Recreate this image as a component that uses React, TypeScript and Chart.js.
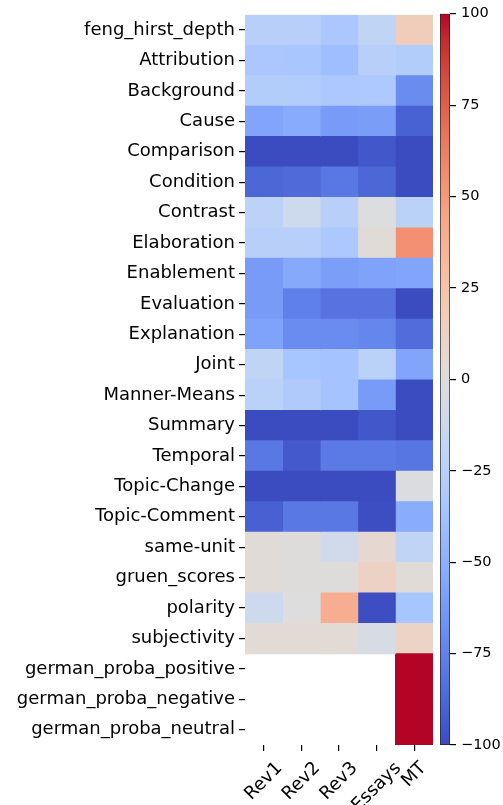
import React, { useEffect, useRef } from "react";
import { Chart, registerables } from "chart.js";

Chart.register(...registerables);

const rowLabels = [
  "feng_hirst_depth", "Attribution", "Background", "Cause", "Comparison", "Condition",
  "Contrast", "Elaboration", "Enablement", "Evaluation", "Explanation", "Joint",
  "Manner-Means", "Summary", "Temporal", "Topic-Change", "Topic-Comment", "same-unit",
  "gruen_scores", "polarity", "subjectivity", "german_proba_positive",
  "german_proba_negative", "german_proba_neutral",
];
const colLabels = ["Rev1", "Rev2", "Rev3", "Essays", "MT"];

const rev1 = [-25, -33, -28, -56, -100, -88, -22, -25, -62, -62, -58, -20, -24, -100, -80, -100, -91, 3, 3, -12, 4, null, null, null];
const rev2 = [-25, -34, -29, -53, -100, -86, -12, -25, -54, -76, -70, -35, -30, -100, -94, -100, -80, 1, 1, 0, 4, null, null, null];
const rev3 = [-33, -40, -32, -62, -100, -80, -25, -32, -60, -82, -70, -37, -37, -100, -79, -100, -80, -10, 1, 40, 4, null, null, null];
const essays = [-20, -25, -31, -61, -95, -88, -1, 3, -58, -82, -73, -24, -62, -95, -79, -100, -99, 7, 13, -99, -5, null, null, null];
const mt = [18, -28, -70, -90, -100, -100, -23, 55, -56, -100, -85, -56, -100, -100, -81, -2, -52, -20, 3, -35, 12, 100, 100, 100];

const colorbarTicks = [-100, -75, -50, -25, 0, 25, 50, 75, 100];
const vmin = -100;
const vmax = 100;

const COOLWARM: number[][] = [
  [59, 76, 192], [68, 90, 204], [77, 104, 215], [87, 117, 225], [98, 130, 234],
  [108, 142, 241], [119, 154, 247], [130, 165, 251], [141, 176, 254], [152, 185, 255],
  [163, 194, 255], [174, 201, 253], [184, 208, 249], [194, 213, 244], [204, 217, 238],
  [213, 219, 230], [221, 221, 221], [229, 216, 209], [236, 211, 197], [241, 204, 184],
  [245, 196, 172], [247, 187, 160], [247, 177, 148], [247, 166, 135], [244, 154, 123],
  [241, 141, 111], [236, 127, 99], [229, 112, 89], [222, 96, 77], [213, 80, 66],
  [203, 62, 56], [192, 40, 47], [180, 4, 38],
];

function coolwarm(t: number): string {
  const tt = Math.max(0, Math.min(1, t));
  const pos = tt * (COOLWARM.length - 1);
  const i = Math.min(Math.floor(pos), COOLWARM.length - 2);
  const f = pos - i;
  const a = COOLWARM[i];
  const b = COOLWARM[i + 1];
  const c = a.map((v, k) => Math.round(v + (b[k] - v) * f));
  return `rgb(${c[0]},${c[1]},${c[2]})`;
}
const colorFor = (v: number) => coolwarm((v - vmin) / (vmax - vmin));

const FONT = '"DejaVu Sans", sans-serif';

const xLabelPlugin = {
  id: "xLabels",
  afterDraw(chart: any) {
    const { ctx, chartArea } = chart;
    const x = chart.scales.x;
    ctx.save();
    ctx.font = `18px ${FONT}`;
    ctx.fillStyle = "#000";
    colLabels.forEach((lab, c) => {
      const px = x.getPixelForValue(c + 0.5);
      const w = ctx.measureText(lab).width;
      const h = 18 * 1.17;
      const d = (w + h) * Math.SQRT1_2;
      const top = chartArea.bottom + 13;
      ctx.save();
      ctx.translate(px, top + d / 2);
      ctx.rotate(-Math.PI / 4);
      ctx.textAlign = "center";
      ctx.textBaseline = "middle";
      ctx.fillText(lab, 0, 0);
      ctx.restore();
    });
    ctx.restore();
  },
};

export default function App() {
  const mainRef = useRef<HTMLCanvasElement>(null);
  const cbRef = useRef<HTMLCanvasElement>(null);

  useEffect(() => {
    const columns = [rev1, rev2, rev3, essays, mt];
    const main = new Chart(mainRef.current!, {
      type: "bar",
      data: {
        labels: rowLabels,
        datasets: columns.map((vals, c) => ({
          label: colLabels[c],
          data: vals.map((v) => (v == null ? null : [c, c + 1])) as any,
          backgroundColor: vals.map((v) => (v == null ? "rgba(0,0,0,0)" : colorFor(v))),
          borderWidth: 0,
          borderSkipped: false,
          grouped: false,
          barPercentage: 1,
          categoryPercentage: 1,
          inflateAmount: 0.4,
        })),
      },
      options: {
        indexAxis: "y",
        responsive: false,
        animation: false,
        devicePixelRatio: 1,
        layout: { padding: { top: 13, right: 3, left: 0, bottom: 0 } },
        plugins: { legend: { display: false }, tooltip: { enabled: false } },
        scales: {
          y: {
            type: "category",
            grid: {
              display: true,
              drawOnChartArea: false,
              drawTicks: true,
              tickLength: 6,
              color: "#000",
              lineWidth: 1.2,
              offset: false,
            },
            border: { display: false },
            ticks: { color: "#000", font: { family: FONT, size: 18 }, padding: 4, autoSkip: false },
            afterFit: (s: any) => {
              s.width = 245;
            },
          },
          x: {
            type: "linear",
            min: 0,
            max: 5,
            afterBuildTicks: (s: any) => {
              s.ticks = colLabels.map((_, i) => ({ value: i + 0.5 }));
            },
            ticks: { callback: () => "", autoSkip: false, maxRotation: 0 },
            grid: {
              display: true,
              drawOnChartArea: false,
              drawTicks: true,
              tickLength: 6,
              color: "#000",
              lineWidth: 1.2,
            },
            border: { display: false },
            afterFit: (s: any) => {
              s.height = 60;
            },
          },
        },
      },
      plugins: [xLabelPlugin],
    } as any);

    const cb = new Chart(cbRef.current!, {
      type: "bar",
      data: {
        labels: [""],
        datasets: [
          {
            data: [[vmin, vmax]] as any,
            backgroundColor: (ctx: any) => {
              const area = ctx.chart.chartArea;
              if (!area) return "#ccc";
              const g = ctx.chart.ctx.createLinearGradient(0, area.bottom, 0, area.top);
              COOLWARM.forEach((_, i) => {
                const t = i / (COOLWARM.length - 1);
                g.addColorStop(t, coolwarm(t));
              });
              return g;
            },
            borderColor: "#222",
            borderWidth: 1,
            borderSkipped: false,
            barPercentage: 1,
            categoryPercentage: 1,
          },
        ],
      },
      options: {
        responsive: false,
        animation: false,
        devicePixelRatio: 1,
        layout: { padding: { top: 13, bottom: 60, left: 4, right: 0 } },
        plugins: { legend: { display: false }, tooltip: { enabled: false } },
        scales: {
          x: { display: false },
          y: {
            type: "linear",
            position: "right",
            min: vmin,
            max: vmax,
            afterBuildTicks: (s: any) => {
              s.ticks = colorbarTicks.map((v) => ({ value: v }));
            },
            ticks: {
              color: "#000",
              font: { family: FONT, size: 14.5 },
              padding: 5,
              autoSkip: false,
              callback: (v: any) => (Number(v) < 0 ? "\u2212" + Math.abs(Number(v)) : String(v)),
            },
            grid: {
              display: true,
              drawOnChartArea: false,
              drawTicks: true,
              tickLength: 6,
              color: "#000",
              lineWidth: 1.2,
            },
            border: { display: false },
            afterFit: (s: any) => {
              s.width = 53;
            },
          },
        },
      },
    } as any);

    return () => {
      main.destroy();
      cb.destroy();
    };
  }, []);

  return (
    <div style={{ position: "absolute", left: 0, top: 0, width: 503, height: 805, background: "#fff", overflow: "hidden" }}>
      <canvas ref={mainRef} width={436} height={805} style={{ position: "absolute", left: 0, top: 0 }} />
      <canvas ref={cbRef} width={67} height={805} style={{ position: "absolute", left: 436, top: 0 }} />
    </div>
  );
}
